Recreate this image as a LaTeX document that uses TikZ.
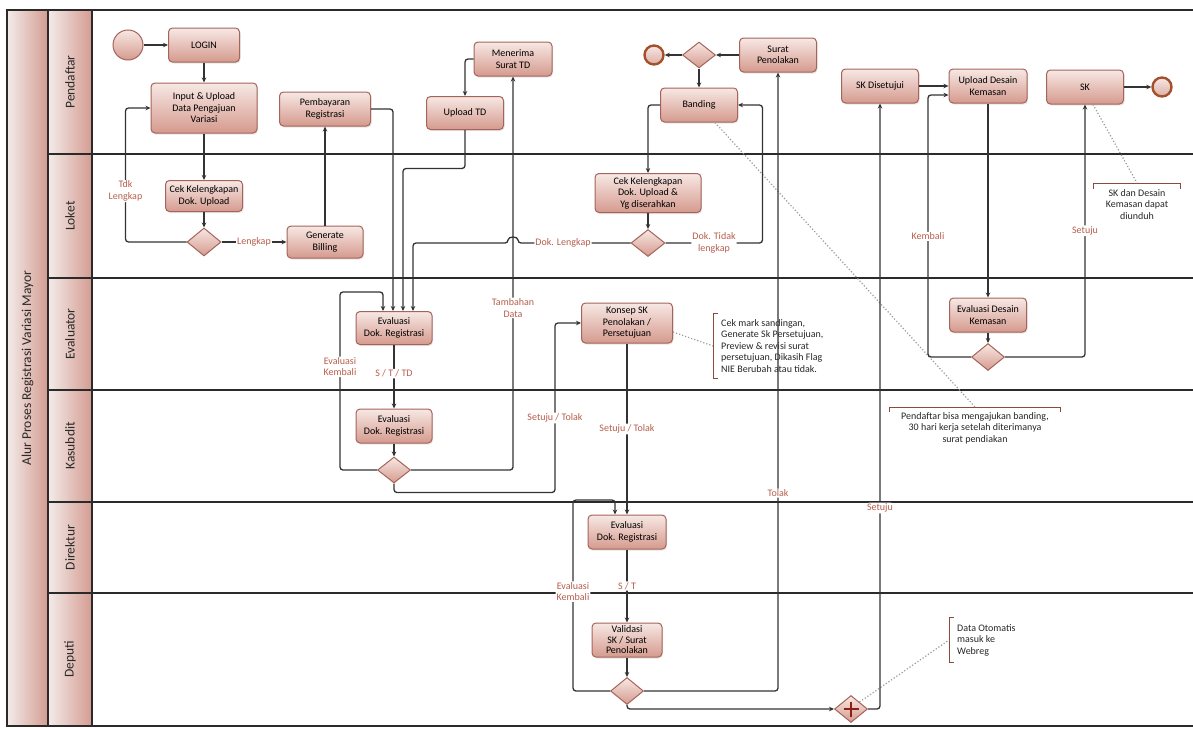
\documentclass[tikz,border=0pt]{standalone}
\usepackage{fontspec}
\setmainfont{Carlito}
\usetikzlibrary{shapes.geometric,arrows.meta,calc,shadows}

\definecolor{edgecol}{HTML}{333333}
\definecolor{boxline}{HTML}{A5645A}
\definecolor{boxtop}{HTML}{F7E8E4}
\definecolor{boxbot}{HTML}{D59A8E}
\definecolor{lbltext}{HTML}{B65E4C}
\definecolor{lanecol}{HTML}{2A2A2A}
\definecolor{hdrlight}{HTML}{F3ECEA}
\definecolor{hdrdark}{HTML}{D49B91}
\definecolor{notecol}{HTML}{9A9A9A}
\definecolor{brackcol}{HTML}{8C4A3A}
\definecolor{endring}{HTML}{A4502C}
\definecolor{plusred}{HTML}{8E1E14}

\newcommand{\dgmfont}{\fontsize{10}{11.5}\selectfont}
\newcommand{\dgmhead}{\fontsize{13.5}{16}\selectfont}

\begin{document}
\begin{tikzpicture}[x=1pt,y=-1pt,
  task/.style={rectangle, rounded corners=4pt, draw=boxline, line width=1pt,
    top color=boxtop, bottom color=boxbot, align=center, font=\dgmfont,
    inner sep=1pt, minimum width=77pt, minimum height=34pt,
    drop shadow={shadow xshift=1pt, shadow yshift=-1.5pt, opacity=0.2}},
  gate/.style={diamond, draw=boxline, line width=1pt, top color=boxtop,
    bottom color=boxbot, minimum width=34pt, minimum height=27pt, inner sep=0pt},
  startev/.style={circle, draw=boxline, line width=1pt, top color=boxtop,
    bottom color=boxbot, minimum size=30pt, inner sep=0pt},
  endev/.style={circle, draw=endring, line width=2.4pt, top color=boxtop,
    bottom color=boxbot!80!white, minimum size=19pt, inner sep=0pt},
  flow/.style={draw=edgecol, line width=1.3pt, rounded corners=3pt,
    -{Stealth[length=5pt,width=4.5pt]}},
  lbl/.style={fill=white, text=lbltext, font=\dgmfont, inner sep=1pt, align=center},
  laneline/.style={draw=lanecol, line width=1.3pt},
  hdrbox/.style={draw=lanecol, line width=1.3pt, left color=hdrlight, right color=hdrdark},
  lanetxt/.style={rotate=90, font=\dgmhead, text=lanecol},
  note/.style={font=\dgmfont, text=black!85},
  noteline/.style={draw=notecol, line width=1.2pt, dotted},
  brack/.style={draw=brackcol, line width=1pt}
]
\useasboundingbox (0,0) rectangle (1193,728);

% ---------- pool and lanes ----------
\draw[hdrbox] (7,10) rectangle (48,726);
\node[lanetxt] (title) at (27.5,368) {Alur Proses Registrasi Variasi Mayor};

\draw[hdrbox] (48,10) rectangle (92,154);
\draw[hdrbox] (48,154) rectangle (92,278);
\draw[hdrbox] (48,278) rectangle (92,390);
\draw[hdrbox] (48,390) rectangle (92,502);
\draw[hdrbox] (48,502) rectangle (92,593);
\draw[hdrbox] (48,593) rectangle (92,726);
\node[lanetxt] (hpend) at (70,82) {Pendaftar};
\node[lanetxt] (hloket) at (70,216) {Loket};
\node[lanetxt] (heval) at (70,334) {Evaluator};
\node[lanetxt] (hkasub) at (70,446) {Kasubdit};
\node[lanetxt] (hdir) at (70,547.5) {Direktur};
\node[lanetxt] (hdep) at (70,659.5) {Deputi};

\draw[laneline] (7,10) -- (1193,10);
\draw[laneline] (92,154) -- (1193,154);
\draw[laneline] (92,278) -- (1193,278);
\draw[laneline] (92,390) -- (1193,390);
\draw[laneline] (92,502) -- (1193,502);
\draw[laneline] (92,593) -- (1193,593);
\draw[laneline] (7,726) -- (1193,726);

% ---------- Pendaftar ----------
\node[startev] (start) at (128,45) {};
\node[task, minimum width=71pt] (login) at (204,45) {LOGIN};
\node[task, minimum width=106pt, minimum height=50pt] (input) at (204,108) {Input \& Upload\\Data Pengajuan\\Variasi};
\node[task, minimum width=91pt] (bayar) at (325,109) {Pembayaran\\Registrasi};
\node[task, minimum height=33pt] (uploadtd) at (465,113) {Upload TD};
\node[task, minimum width=78pt] (terima) at (513,59) {Menerima\\Surat TD};
\node[endev] (end1) at (654,55) {};
\node[gate, minimum width=33pt, minimum height=26pt] (g3) at (699,55) {};
\node[task] (tolak) at (778,55) {Surat\\Penolakan};
\node[task] (banding) at (699,105) {Banding};
\node[task] (skok) at (880,86) {SK Disetujui};
\node[task, minimum width=78pt] (desain) at (988,86) {Upload Desain\\Kemasan};
\node[task] (sk) at (1085,87) {SK};
\node[endev] (end2) at (1162,87) {};

% ---------- Loket ----------
\node[task, minimum height=31pt] (cek1) at (204,196) {Cek Kelengkapan\\Dok. Upload};
\node[gate, minimum height=28pt] (g1) at (204,242) {};
\node[task, minimum width=76pt, minimum height=32pt] (billing) at (325,242) {Generate\\Billing};
\node[task, minimum width=106pt, minimum height=39pt] (cek2) at (648,193) {Cek Kelengkapan\\Dok. Upload \&\\Yg diserahkan};
\node[gate] (g4) at (648,243) {};

% ---------- Evaluator ----------
\node[task, minimum width=76pt, minimum height=33pt] (ev1) at (394,328) {Evaluasi\\Dok. Registrasi};
\node[task, minimum width=91pt, minimum height=40pt] (konsep) at (627,323) {Konsep SK\\Penolakan /\\Persetujuan};
\node[task] (evdesain) at (988,315) {Evaluasi Desain\\Kemasan};
\node[gate, minimum width=33pt] (g6) at (988,357) {};

% ---------- Kasubdit ----------
\node[task, minimum width=76pt] (ev2) at (394,426) {Evaluasi\\Dok. Registrasi};
\node[gate, minimum width=33pt, minimum height=26pt] (g2) at (394,470) {};

% ---------- Direktur ----------
\node[task, minimum width=78pt] (ev3) at (627,532) {Evaluasi\\Dok. Registrasi};

% ---------- Deputi ----------
\node[task, minimum width=70pt, font={\fontsize{10}{10.5}\selectfont}] (valid) at (627,640) {Validasi\\SK / Surat\\Penolakan};
\node[gate, minimum width=33pt] (g5) at (627,691) {};
\node[gate, minimum width=33pt] (plus) at (851,709) {};
\draw[plusred, line width=2.2pt] ([xshift=-7.5pt]plus.center) -- ([xshift=7.5pt]plus.center)
  ([yshift=-7.5pt]plus.center) -- ([yshift=7.5pt]plus.center);

% ---------- annotations ----------
\node[note, anchor=west, align=left, inner xsep=8pt, inner ysep=6pt] (ann1) at (713,346)
  {Cek mark sandingan,\\Generate Sk Persetujuan,\\Preview \& revisi surat\\persetujuan, Dikasih Flag\\NIE Berubah atau tidak.};
\draw[brack] ([xshift=5pt]ann1.north west) -- (ann1.north west) -- (ann1.south west) -- ([xshift=5pt]ann1.south west);

\node[note, anchor=north, align=center, minimum width=171pt, inner ysep=5pt] (ann2) at (975,407)
  {Pendaftar bisa mengajukan banding,\\30 hari kerja setelah diterimanya\\surat pendiakan};
\draw[brack] ([yshift=-5pt]ann2.north west) -- (ann2.north west) -- (ann2.north east) -- ([yshift=-5pt]ann2.north east);

\node[note, anchor=north, align=center, minimum width=86pt, inner ysep=6pt] (ann3) at (1137,183)
  {SK dan Desain\\Kemasan dapat\\diunduh};
\draw[brack] ([yshift=-6pt]ann3.north west) -- (ann3.north west) -- (ann3.north east) -- ([yshift=-6pt]ann3.north east);

\node[note, anchor=west, align=left, inner xsep=8pt, inner ysep=6pt] (ann4) at (949,640)
  {Data Otomatis\\masuk ke\\Webreg};
\draw[brack] ([xshift=5pt]ann4.north west) -- (ann4.north west) -- (ann4.south west) -- ([xshift=5pt]ann4.south west);

\draw[noteline] ([xshift=16pt]banding.south) -- (ann2.north);
\draw[noteline] ([yshift=-9pt]konsep.east) -- (ann1.west);
\draw[noteline] ([xshift=8pt]sk.south) -- (ann3.north);
\draw[noteline] (plus.north east) -- (ann4.west);

% ---------- sequence flows ----------
\draw[flow] (start.east) -- (login.west);
\draw[flow] (login.south) -- (input.north);
\draw[flow] (input.south) -- (cek1.north);
\draw[flow] (cek1.south) -- (g1.north);
\draw[flow] (g1.west) -- ++(-61,0) |- node[lbl, pos=0.19]{Tdk\\Lengkap} (input.west);
\draw[flow] (g1.east) -- node[lbl]{Lengkap} (billing.west);
\draw[flow] (billing.north) -- (bayar.south);
\draw[flow] (bayar.east) -| ([xshift=-1pt]ev1.north);
\draw[flow] (terima.west) -| (uploadtd.north);
\draw[flow] (uploadtd.south) -- ++(0,38.5) -| ([xshift=9pt]ev1.north);
\draw[flow] (g4.west) -- node[lbl, pos=0.6]{Dok. Lengkap} (518,243)
  .. controls (518,236) and (508,236) .. (508,243) -| ([xshift=19pt]ev1.north);
\draw[flow] (g2.west) -| node[lbl, pos=0.79]{Evaluasi\\Kembali} (340,292) -| ([xshift=-11pt]ev1.north);
\draw[flow] (g2.east) -| node[lbl, pos=0.706]{Tambahan\\Data} (terima.south);
\draw[flow] (ev1.south) -- node[lbl, pos=0.45]{S / T / TD} (ev2.north);
\draw[flow] (ev2.south) -- (g2.north);
\draw[flow] (g2.south) -- ++(0,9) -| node[lbl, pos=0.72]{Setuju / Tolak} (555,323) -- (konsep.west);
\draw[flow] (konsep.south) -- node[lbl]{Setuju / Tolak} (ev3.north);
\draw[flow] (ev3.south) -- node[lbl]{S / T} (valid.north);
\draw[flow] (valid.south) -- (g5.north);
\draw[flow] (g5.west) -| node[lbl, pos=0.76]{Evaluasi\\Kembali} (573,500) -| ([xshift=-12pt]ev3.north);
\draw[flow] (g5.east) -| node[lbl, pos=0.66]{Tolak} (tolak.south);
\draw[flow] (g5.south) |- (plus.west);
\draw[flow] (plus.east) -| node[lbl, pos=0.666]{Setuju} (skok.south);
\draw[flow] (tolak.west) -- (g3.east);
\draw[flow] (g3.west) -- (end1.east);
\draw[flow] (g3.south) -- (banding.north);
\draw[flow] (banding.west) -| (cek2.north);
\draw[flow] (cek2.south) -- (g4.north);
\draw[flow] (g4.east) -- node[lbl]{Dok. Tidak\\lengkap} ++(97,0) |- (banding.east);
\draw[flow] (skok.east) -- (desain.west);
\draw[flow] (g6.west) -- ++(-43,0) |- node[lbl, pos=0.23]{Kembali} ([yshift=-9pt]desain.west);
\draw[flow] (desain.south) -- (evdesain.north);
\draw[flow] (evdesain.south) -- (g6.north);
\draw[flow] (g6.east) -| node[lbl, pos=0.75]{Setuju} (sk.south);
\draw[flow] (sk.east) -- (end2.west);
\end{tikzpicture}
\end{document}
